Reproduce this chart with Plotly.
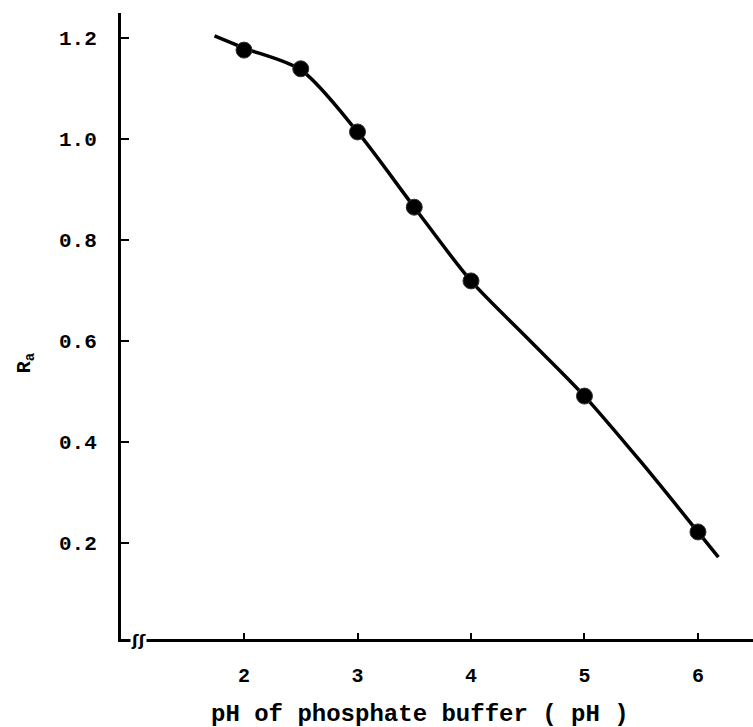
import plotly.graph_objects as go

# measured data points (pH, Ra)
ph = [2.0, 2.5, 3.0, 3.5, 4.0, 5.0, 6.0]
ra = [1.176, 1.139, 1.014, 0.865, 0.719, 0.491, 0.222]

# fitted curve as drawn
curve_ph = [1.74, 2.0, 2.5, 3.0, 3.5, 4.0, 4.5, 5.0, 5.5, 6.0, 6.18]
curve_ra = [1.204, 1.18, 1.137, 1.014, 0.865, 0.719, 0.605, 0.491, 0.36, 0.222, 0.172]

x_ticks = [2, 3, 4, 5, 6]
y_ticks = [0.2, 0.4, 0.6, 0.8, 1.0, 1.2]
y_tick_text = ["0.2", "0.4", "0.6", "0.8", "1.0", "1.2"]

FONT = "Liberation Mono"

fig = go.Figure()
fig.add_trace(go.Scatter(
    x=curve_ph, y=curve_ra, mode="lines",
    line=dict(color="black", width=3.5, shape="spline", smoothing=0.8),
    hoverinfo="skip", showlegend=False))
fig.add_trace(go.Scatter(
    x=ph, y=ra, mode="markers",
    marker=dict(color="black", size=16, symbol="circle",
                line=dict(color="#333", width=1)),
    showlegend=False))

fig.update_layout(
    width=753, height=727,
    margin=dict(l=121, r=0, t=13, b=88),
    paper_bgcolor="white", plot_bgcolor="white",
    font=dict(family=FONT, color="black", size=20),
    xaxis=dict(range=[0.916, 6.485], tickvals=x_ticks,
               ticktext=[str(v) for v in x_ticks],
               showgrid=False, zeroline=False,
               showline=True, linecolor="black", linewidth=3,
               ticks="inside", ticklen=6, tickwidth=2, tickcolor="black",
               ticklabelstandoff=16,
               tickfont=dict(family=FONT, size=20, weight="bold")),
    yaxis=dict(range=[0.01, 1.2495], tickvals=y_ticks, ticktext=y_tick_text,
               showgrid=False, zeroline=False,
               showline=True, linecolor="black", linewidth=3,
               ticks="inside", ticklen=8, tickwidth=2, tickcolor="black",
               ticklabelstandoff=17,
               tickfont=dict(family=FONT, size=21, weight="bold")),
    annotations=[
        dict(text="pH of phosphate buffer ( pH )", xref="paper", yref="paper",
             x=0.473, y=-0.12, showarrow=False, xanchor="center", yanchor="middle",
             font=dict(family=FONT, size=24, weight="bold")),
        dict(text="R<sub>a</sub>", xref="paper", yref="paper",
             x=-0.152, y=0.442, showarrow=False, textangle=-90,
             xanchor="center", yanchor="middle",
             font=dict(family=FONT, size=20, weight="bold")),
        dict(text="ʃʃ", xref="paper", yref="paper",
             x=(138 - 121) / 632, y=-0.003, showarrow=False,
             xanchor="center", yanchor="middle", bgcolor="white",
             borderpad=0,
             font=dict(family="DejaVu Sans", size=16, weight="bold")),
    ],
)

fig.write_html("out.html")
